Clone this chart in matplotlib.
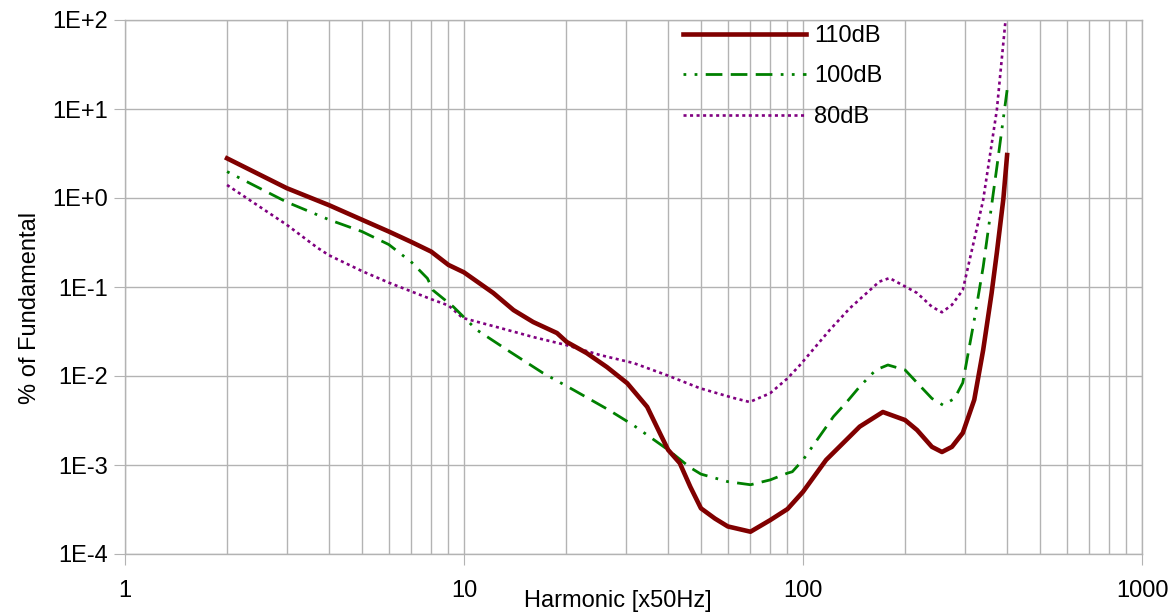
import matplotlib
matplotlib.use("Agg")
import matplotlib.pyplot as plt
from matplotlib.ticker import LogLocator, FixedLocator

plt.rcParams['font.family'] = ['Liberation Sans', 'DejaVu Sans']
plt.rcParams['lines.scale_dashes'] = False

# harmonic number vs % of fundamental
h_110 = [2, 3, 4, 5, 6, 7, 8, 9, 10, 12.2, 14, 16, 18.8, 20.1, 23, 26.4, 30.3, 34.7, 38,
         40, 43.3, 46.5, 50, 55, 60, 70, 80, 90, 100, 117, 147, 172, 200, 217, 240, 257,
         275, 296, 320, 340, 360, 373, 390, 400]
v_110 = [2.79, 1.29, 0.83, 0.57, 0.42, 0.32, 0.25, 0.177, 0.146, 0.0857, 0.055, 0.0404,
         0.0304, 0.0241, 0.0181, 0.0126, 0.0083, 0.0045, 0.0022, 0.00148, 0.00105, 5.7e-4,
         3.26e-4, 2.5e-4, 2.04e-4, 1.78e-4, 2.4e-4, 3.2e-4, 5.0e-4, 1.14e-3, 2.7e-3, 3.94e-3,
         3.2e-3, 2.47e-3, 1.6e-3, 1.4e-3, 1.6e-3, 2.29e-3, 5.4e-3, 0.0196, 0.085, 0.241,
         0.98, 3.04]

h_100 = [2, 3, 4, 5, 6, 7, 7.8, 8.1, 9.3, 10.9, 13.7, 17.1, 21, 26.6, 31.6, 40, 46.4, 50,
         60, 70, 80, 90, 93, 100, 123, 134, 147, 164, 178, 200, 217, 240, 259, 280, 296,
         320, 340, 373, 400]
v_100 = [1.98, 0.90, 0.57, 0.42, 0.30, 0.19, 0.125, 0.092, 0.06, 0.033, 0.0186, 0.0108,
         0.007, 0.0042, 0.0028, 0.00148, 9.4e-4, 7.9e-4, 6.5e-4, 6.0e-4, 6.8e-4, 8.1e-4,
         8.4e-4, 1.14e-3, 3.5e-3, 5.0e-3, 7.6e-3, 0.0117, 0.0133, 0.0117, 0.0084, 0.0056,
         0.0047, 0.0056, 0.0084, 0.0426, 0.168, 2.2, 16.3]

h_80 = [2, 3, 3.69, 4, 5, 6, 7, 8, 9, 9.9, 12.8, 16, 20, 25.2, 31.6, 39.7, 49.6, 62, 69.6,
        80, 90, 98, 120, 137.6, 168, 180, 217, 240, 257, 275, 296, 320, 340, 373, 395]
v_80 = [1.40, 0.50, 0.277, 0.227, 0.151, 0.112, 0.089, 0.073, 0.062, 0.045, 0.0346, 0.0274,
        0.0223, 0.0172, 0.014, 0.0102, 0.0073, 0.0057, 0.0051, 0.0064, 0.0094, 0.0133,
        0.033, 0.058, 0.115, 0.126, 0.0857, 0.060, 0.052, 0.063, 0.0925, 0.34, 0.95, 9.7, 92]

y_ticks = [1e-4, 1e-3, 1e-2, 1e-1, 1, 10, 100]
y_labels = ['1E-4', '1E-3', '1E-2', '1E-1', '1E+0', '1E+1', '1E+2']
x_ticks = [1, 10, 100, 1000]
x_labels = ['1', '10', '100', '1000']

fig = plt.figure(figsize=(11.74, 6.13), dpi=100)
ax = fig.add_axes([125 / 1174, 1 - 554 / 613, 1017 / 1174, 534 / 613])

grid_c = '#b3b3b3'
ax.plot(h_110, v_110, color='#800000', lw=3.3, label='110dB', zorder=5)
ax.plot(h_100, v_100, color='#008000', lw=2.0, label='100dB', zorder=4,
        dashes=(2, 6, 2, 6, 12, 6, 12, 6, 12, 6))
ax.plot(h_80, v_80, color='#800080', lw=1.9, label='80dB', zorder=3,
        dashes=(2.2, 2.5))

ax.set_xscale('log')
ax.set_yscale('log')
ax.set_xlim(1, 1000)
ax.set_ylim(1e-4, 100)

ax.xaxis.set_major_locator(FixedLocator(x_ticks))
ax.xaxis.set_minor_locator(LogLocator(base=10, subs=range(2, 10)))
ax.set_xticks(x_ticks, x_labels)
ax.yaxis.set_major_locator(FixedLocator(y_ticks))
ax.yaxis.set_minor_locator(FixedLocator([]))
ax.set_yticks(y_ticks, y_labels)

ax.grid(True, which='major', color=grid_c, lw=1.0)
ax.grid(True, which='minor', axis='x', color=grid_c, lw=1.0)
for s in ax.spines.values():
    s.set_color(grid_c)
    s.set_linewidth(1.0)
ax.tick_params(which='major', length=8, color=grid_c, labelsize=17)
ax.tick_params(axis='x', which='major', pad=11)
ax.tick_params(axis='y', which='major', pad=4)
ax.tick_params(which='minor', length=0)
ax.set_axisbelow(True)

ax.set_xlabel('Harmonic [x50Hz]', fontsize=17, va='center')
ax.xaxis.set_label_coords(0.485, -0.088)
ax.set_ylabel('% of Fundamental', fontsize=17, va='center')
ax.yaxis.set_label_coords(-0.093, 0.46)

ax.legend(loc='upper left', bbox_to_anchor=(683 / 1174, 1 - 25 / 613),
          bbox_transform=fig.transFigure, frameon=False, fontsize=17,
          handlelength=5.2, handletextpad=0.35, labelspacing=0.78,
          borderpad=0, borderaxespad=0)

fig.savefig('out.png', dpi=100)
